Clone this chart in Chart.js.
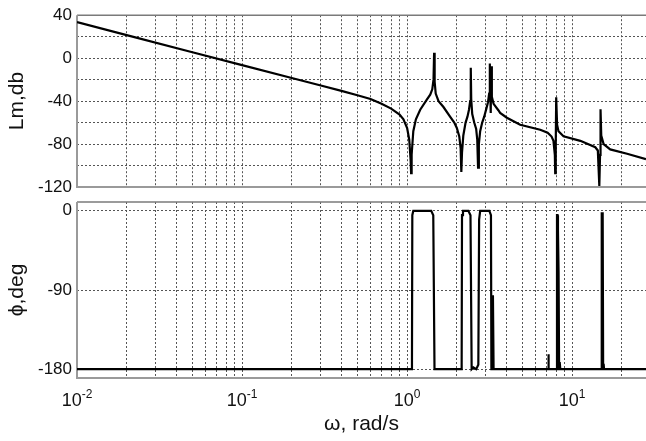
<!DOCTYPE html>
<html>
<head>
<meta charset="utf-8">
<title>Bode</title>
<script src="https://cdn.jsdelivr.net/npm/chart.js@4.4.1/dist/chart.umd.min.js"></script>
<style>
  html, body { margin: 0; padding: 0; background: #fff; }
  #wrap { position: relative; width: 646px; height: 441px; }
  canvas { position: absolute; left: 0; top: 0; }
</style>
</head>
<body>
<div id="wrap">
  <canvas id="lmChart" width="646" height="441"></canvas>
  <canvas id="phChart" width="646" height="441"></canvas>
</div>
<script>
// log magnitude, dB
const lmFreq = [0.01, 0.02, 0.05, 0.1, 0.2, 0.3, 0.4, 0.5, 0.6, 0.7, 0.8, 0.9, 0.95, 1.0, 1.03, 1.05, 1.057, 1.065, 1.09, 1.13,
  1.2, 1.31, 1.38, 1.42, 1.445, 1.457, 1.468, 1.49, 1.55, 1.66, 1.82, 1.93, 2.0, 2.07, 2.11, 2.13, 2.15, 2.19, 2.26, 2.32,
  2.37, 2.41, 2.43, 2.445, 2.48, 2.55, 2.62, 2.66, 2.69, 2.72, 2.77, 2.85, 2.93, 3.02, 3.09, 3.14, 3.17, 3.19, 3.21, 3.23,
  3.26, 3.34, 3.57, 3.66, 4.02, 4.84, 6.4, 7.1, 7.5, 7.7, 7.85, 7.89, 7.95, 8.0, 8.1, 8.26, 8.86, 11.2, 13.8, 14.3,
  14.6, 14.75, 14.85, 15.0, 15.5, 17.0, 21.5, 28];
const lmDb = [33.5, 21.5, 5.5, -6.5, -18.5, -25.5, -30.5, -34.5, -38, -42.5, -47, -52.5, -57, -65, -76, -95, -107, -90, -68, -57,
  -48, -39, -34, -29, -20, 5, -22, -33, -40, -45.5, -54.5, -60, -65, -73, -84, -106, -88, -72, -60, -54.5,
  -48, -40, -9, -38, -52, -60, -66, -76, -102, -80, -68, -60, -54.5, -47, -41, -33, -5, -30, -51, -7.5,
  -36, -42.5, -48.5, -51, -55.5, -62, -66.7, -69.5, -73, -77, -90, -107, -80, -36.4, -62, -68, -72.7, -77, -83, -86,
  -119, -90, -47.6, -72, -80, -85, -89, -94];

// phase, deg
const phFreq = [0.01, 1.065, 1.07, 1.075, 1.09, 1.40, 1.44, 1.465, 2.13, 2.14, 2.15, 2.18, 2.35, 2.42, 2.46, 2.52, 2.62, 2.70, 2.73, 2.77,
  3.15, 3.22, 3.24, 3.30, 3.31, 3.34, 7.15, 7.18, 7.21, 8.05, 8.09, 8.15, 8.2, 8.27, 8.33, 8.4, 8.47, 15.05, 15.1, 15.3,
  15.4, 15.5, 15.6, 28];
const phDeg = [-180, -180, -170, -5, 0, 0, -5, -180, -180, -175, -5, 0, 0, -5, -180, -178, -180, -175, -10, 0,
  0, -5, -180, -180, -96, -180, -180, -163, -180, -180, -5, -5, -22, -70, -180, -172, -180, -180, -3, -3,
  -180, -174, -180, -180];

const decades = [0.01, 0.1, 1, 10];
const decadeExp = ['-2', '-1', '0', '1'];
const lmTicks = [40, 20, 0, -20, -40, -60, -80, -100, -120];
const phTicks = [0, -90, -180];

const FONT = "'Liberation Sans', Arial, Helvetica, sans-serif";
const W_MAX = 28;

// grid at 1..9 of every decade
const gridFreq = [];
decades.forEach(d => {
  for (let k = 1; k <= 9; k++) {
    const v = +(d * k).toPrecision(3);
    if (v <= W_MAX) gridFreq.push(v);
  }
});

function xAxis() {
  return {
    type: 'logarithmic',
    min: 0.01,
    max: W_MAX,
    afterBuildTicks: s => { s.ticks = gridFreq.map(v => ({ value: v })); },
    afterFit: s => { s.height = 0; },
    ticks: { display: false },
    grid: { color: '#555', lineWidth: 1, drawTicks: false },
    border: { display: false, dash: [2, 2] }
  };
}

function yAxis(min, max, ticks, labelEvery) {
  return {
    min: min,
    max: max,
    afterBuildTicks: s => { s.ticks = ticks.map(v => ({ value: v })); },
    afterFit: s => { s.width = 77; },
    ticks: {
      autoSkip: false,
      padding: 5,
      color: '#111',
      font: { family: FONT, size: 17 },
      callback: v => (v % labelEvery === 0 ? String(v) : '')
    },
    grid: { color: '#555', lineWidth: 1, drawTicks: false },
    border: { display: false, dash: [2, 2] }
  };
}

// grey box around each panel, under the curve
const frame = {
  id: 'frame',
  beforeDatasetsDraw(chart) {
    const { ctx, chartArea: a } = chart;
    ctx.save();
    ctx.setLineDash([]);
    ctx.strokeStyle = '#7a7a7a';
    ctx.lineWidth = 1.5;
    ctx.beginPath();
    ctx.moveTo(a.right + 2, a.top);
    ctx.lineTo(a.left, a.top);
    ctx.stroke();
    ctx.strokeStyle = '#9a9a9a';
    ctx.lineWidth = 2;
    ctx.beginPath();
    ctx.moveTo(a.left, a.top);
    ctx.lineTo(a.left, a.bottom);
    ctx.lineTo(a.right + 2, a.bottom);
    ctx.stroke();
    ctx.restore();
  }
};

function vTitle(ctx, text, x, y) {
  ctx.save();
  ctx.translate(x, y);
  ctx.rotate(-Math.PI / 2);
  ctx.font = '21px ' + FONT;
  ctx.fillStyle = '#111';
  ctx.textAlign = 'center';
  ctx.textBaseline = 'alphabetic';
  ctx.fillText(text, 0, 0);
  ctx.restore();
}

const lmTitle = {
  id: 'lmTitle',
  afterDraw(chart) {
    const a = chart.chartArea;
    vTitle(chart.ctx, 'Lm,db', 23, (a.top + a.bottom) / 2);
  }
};

const phText = {
  id: 'phText',
  afterDraw(chart) {
    const { ctx, chartArea: a } = chart;
    const xs = chart.scales.x;
    vTitle(ctx, 'ϕ,deg', 23, (a.top + a.bottom) / 2);

    // decade labels 10^n
    ctx.save();
    ctx.fillStyle = '#111';
    ctx.textBaseline = 'alphabetic';
    ctx.textAlign = 'left';
    decades.forEach((d, i) => {
      const px = xs.getPixelForValue(d);
      ctx.font = '18px ' + FONT;
      const wBase = ctx.measureText('10').width;
      ctx.font = '12px ' + FONT;
      const wExp = ctx.measureText(decadeExp[i]).width;
      const x0 = px - (wBase + wExp) / 2;
      ctx.font = '18px ' + FONT;
      ctx.fillText('10', x0, a.bottom + 28);
      ctx.font = '12px ' + FONT;
      ctx.fillText(decadeExp[i], x0 + wBase, a.bottom + 20);
    });

    ctx.font = '21px ' + FONT;
    ctx.textAlign = 'center';
    ctx.fillText('ω, rad/s', (a.left + a.right) / 2, a.bottom + 52);
    ctx.restore();
  }
};

function lineSet(xs, ys) {
  return {
    data: xs.map((w, i) => ({ x: w, y: ys[i] })),
    borderColor: '#000',
    borderWidth: 2.2,
    pointRadius: 0,
    tension: 0,
    fill: false
  };
}

function baseOptions(padTop, padBottom, yOpts) {
  return {
    responsive: false,
    animation: false,
    devicePixelRatio: 1,
    layout: { padding: { top: padTop, bottom: padBottom, left: 0, right: 0 } },
    plugins: { legend: { display: false }, tooltip: { enabled: false } },
    scales: { x: xAxis(), y: yOpts }
  };
}

new Chart(document.getElementById('lmChart'), {
  type: 'line',
  data: { datasets: [lineSet(lmFreq, lmDb)] },
  options: baseOptions(10, 441 - 187, yAxis(-120, 40, lmTicks, 40)),
  plugins: [frame, lmTitle]
});

new Chart(document.getElementById('phChart'), {
  type: 'line',
  data: { datasets: [lineSet(phFreq, phDeg)] },
  options: baseOptions(202, 441 - 378, yAxis(-190, 10, phTicks, 90)),
  plugins: [frame, phText]
});
</script>
</body>
</html>
